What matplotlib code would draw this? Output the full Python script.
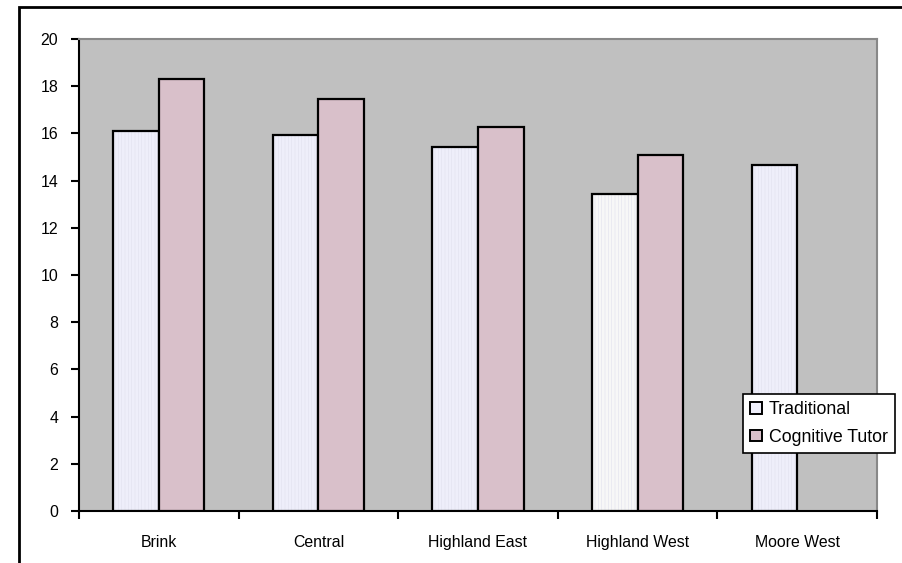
import numpy as np
import matplotlib
matplotlib.use("Agg")
import matplotlib.pyplot as plt
from matplotlib.patches import Rectangle, Patch

plt.rcParams['font.family'] = ['Liberation Sans', 'DejaVu Sans']
plt.rcParams['hatch.linewidth'] = 0.4

# Daten
schools = ["Brink", "Central", "Highland East", "Highland West", "Moore West"]
traditional = [16.1, 15.95, 15.42, 13.43, 14.68]
cognitive = [18.32, 17.47, 16.28, 15.1, 0]
trad_colors = ["#eeeefa", "#eeeefa", "#eeeefa", "#f7f7f7", "#eeeefa"]
yticks = [0, 2, 4, 6, 8, 10, 12, 14, 16, 18, 20]

fig = plt.figure(figsize=(9.02, 5.63), dpi=100)
ax = fig.add_axes([79 / 902, 1 - 511 / 563, (877 - 79) / 902, (511 - 39) / 563])
ax.set_facecolor("#c0c0c0")

w = 1 / 3.5
x = np.arange(len(schools)) + 0.5
for i in range(len(schools)):
    ax.bar(x[i] - w / 2, traditional[i], w, color=trad_colors[i], edgecolor="black",
           linewidth=1.6, hatch="|||||", zorder=3)
    if cognitive[i] > 0:
        ax.bar(x[i] + w / 2, cognitive[i], w, color="#d9c0ca", edgecolor="black",
               linewidth=1.6, zorder=3)
# Schraffur heller machen
for p in ax.patches:
    if p.get_hatch():
        p._hatch_color = matplotlib.colors.to_rgba("#e0e0ee")

ax.set_xlim(0, len(schools))
ax.set_ylim(0, 20)
ax.set_yticks(yticks)
ax.set_yticklabels([str(v) for v in yticks], fontsize=11.4)
ax.set_xticks(np.arange(len(schools) + 1))
ax.set_xticklabels([])
ax.set_xticks(x, minor=True)
ax.set_xticklabels(schools, minor=True, fontsize=11.4)
ax.tick_params(axis="x", which="minor", length=0, pad=17)
ax.tick_params(axis="x", which="major", direction="out", length=6, width=1.5)
ax.tick_params(axis="y", direction="out", length=6, width=1.5, pad=9)

for s in ["top", "right"]:
    ax.spines[s].set_color("#888888")
    ax.spines[s].set_linewidth(1.5)
for s in ["bottom", "left"]:
    ax.spines[s].set_color("black")
    ax.spines[s].set_linewidth(1.5)

handles = [Patch(facecolor="#eeeefa", edgecolor="black", linewidth=1.4),
           Patch(facecolor="#d9c0ca", edgecolor="black", linewidth=1.4)]
leg = fig.legend(handles, ["Traditional", "Cognitive Tutor"], loc="upper left",
                 bbox_to_anchor=(743 / 902, 1 - 394 / 563), fontsize=12.8,
                 frameon=True, fancybox=False, borderpad=0.4, handlelength=0.65,
                 handleheight=0.65, handletextpad=0.4, labelspacing=0.6,
                 borderaxespad=0)
leg.get_frame().set_edgecolor("black")
leg.get_frame().set_linewidth(1.2)
leg.get_frame().set_alpha(1)

# Rahmen um das Diagramm
fig.add_artist(Rectangle((19 / 902, -0.1), 2, 1 - 7 / 563 + 0.1, transform=fig.transFigure,
                         fill=False, edgecolor="black", linewidth=2))

plt.savefig("out.png", dpi=100)
